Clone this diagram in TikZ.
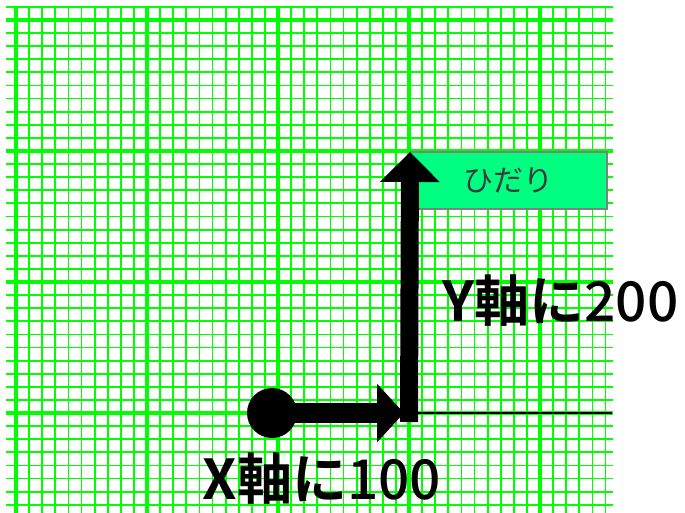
\documentclass[tikz,border=0pt]{standalone}
\usepackage{fontspec}
\usetikzlibrary{arrows.meta}
\newfontfamily\jp{Noto Sans CJK JP}
\newfontfamily\jpmed{Noto Sans CJK JP Medium}
\newfontfamily\jpbold{Noto Sans CJK JP Bold}
\definecolor{gridgreen}{RGB}{0,255,0}
\definecolor{boxgreen}{RGB}{0,255,128}
\definecolor{boxgray}{RGB}{128,128,128}
\definecolor{labelgray}{RGB}{60,60,60}
\tikzset{
  minorline/.style={draw=gridgreen, line width=1.8pt},
  majorline/.style={draw=gridgreen, line width=3.2pt},
  bigarrow/.style={draw=black, line width=#1},
  biglabel/.style={font=\jpmed\fontsize{55}{55}\selectfont, text=black, inner sep=0pt},
  tagbox/.style={draw=boxgray, line width=2pt, fill=boxgreen, minimum width=197pt, minimum height=57pt, inner sep=0pt, text=labelgray, font=\jp\fontsize{30}{30}\selectfont},
}
\begin{document}
\begin{tikzpicture}[x=1pt,y=-1pt]
\fill[white] (0,0) rectangle (685,513);
\useasboundingbox (0,0) rectangle (685,513);
% grid
\foreach \k in {-30,...,15} {
  \pgfmathsetmacro\xx{409+13.1*\k}
  \draw[minorline] (\xx,6.7) -- (\xx,513);
}
\foreach \k in {-31,...,7} {
  \pgfmathsetmacro\yy{413+13.1*\k}
  \draw[minorline] (6,\yy) -- (613,\yy);
}
\foreach \k in {-30,-20,-10,0,10} {
  \pgfmathsetmacro\xx{409+13.1*\k}
  \draw[majorline] (\xx,6.7) -- (\xx,513);
}
\foreach \k in {-30,-20,-10,0} {
  \pgfmathsetmacro\yy{413+13.1*\k}
  \draw[majorline] (6,\yy) -- (613,\yy);
}
% box
\node[tagbox] (tag) at (508.5,180.5) {ひだり};
% arrows
\node[circle, fill=black, minimum size=50pt, inner sep=0pt] (start) at (272,413) {};
\coordinate (htip) at (404,413);
\coordinate (corner) at (409,413);
\coordinate (vbase) at (409,422);
\coordinate (vtip) at (410,152);
\coordinate (lineend) at (612,413);
\draw[black, line width=2pt] (corner) -- (lineend);
\draw[bigarrow=18pt, -{Triangle[length=30pt, width=58pt]}] (vbase) -- (vtip);
\draw[bigarrow=20pt, -{Triangle[length=27pt, width=57pt]}] (start.center) -- (htip);
% labels
\node[biglabel] (ylab) at (560.5,301) {{\jpbold Y軸に}200};
\node[biglabel] (xlab) at (322,479) {{\jpbold X軸に}100};
\end{tikzpicture}
\end{document}
